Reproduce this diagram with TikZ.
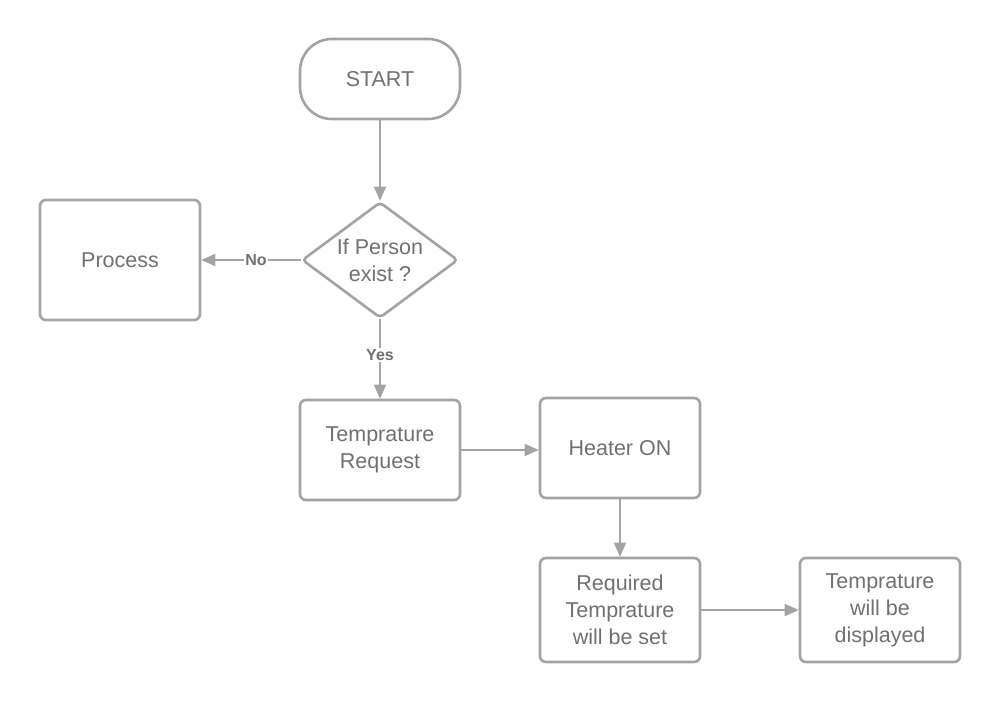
\documentclass[tikz,border=0pt]{standalone}
\usepackage{fontspec}
\setmainfont{Liberation Sans}
\usetikzlibrary{shapes.geometric,arrows.meta}
\definecolor{linegray}{HTML}{A3A3A3}
\definecolor{textgray}{HTML}{707070}
\begin{document}
\begin{tikzpicture}[x=1pt,y=-1pt,
  every node/.style={text=textgray,font=\fontsize{21.5}{27}\selectfont,align=center},
  box/.style={draw=linegray,line width=2.6pt,rounded corners=6pt,minimum width=160pt,minimum height=100pt,inner sep=0pt},
  pill/.style={draw=linegray,line width=2.6pt,rounded corners=32pt,minimum width=160pt,minimum height=80pt,inner sep=0pt},
  decision/.style={draw=linegray,line width=2.6pt,diamond,rounded corners=4pt,minimum width=156pt,minimum height=116pt,aspect=1.345,inner sep=0pt},
  conn/.style={draw=linegray,line width=1.8pt,-{Triangle[length=14pt,width=12pt]}},
  lbl/.style={fill=white,font=\fontsize{16}{18}\selectfont\bfseries,inner sep=1.5pt}
]
\useasboundingbox (0,0) rectangle (1000,702);
\node[pill] (start) at (380,79) {START};
\node[decision] (dec) at (380,260) {};
\node (dectext) at (380,260) {If Person\\exist ?};
\node[box,minimum height=120pt] (proc) at (120,260) {Process};
\node[box] (treq) at (380,450) {Temprature\\Request};
\node[box] (heat) at (620,448) {Heater ON};
\node[box,minimum height=104pt] (reqt) at (620,610) {Required\\Temprature\\will be set};
\node[box,minimum height=104pt] (disp) at (880,610) {Temprature\\will be\\displayed};
\draw[conn] (start.south) -- (dec.north);
\draw[conn] (dec.west) -- node[lbl,pos=0.45] {No} (proc.east);
\draw[conn] (dec.south) -- node[lbl,pos=0.45] {Yes} (treq.north);
\draw[conn] (treq.east) -- (heat.west |- treq.east);
\draw[conn] (heat.south) -- (reqt.north);
\draw[conn] (reqt.east) -- (disp.west);
\end{tikzpicture}
\end{document}
